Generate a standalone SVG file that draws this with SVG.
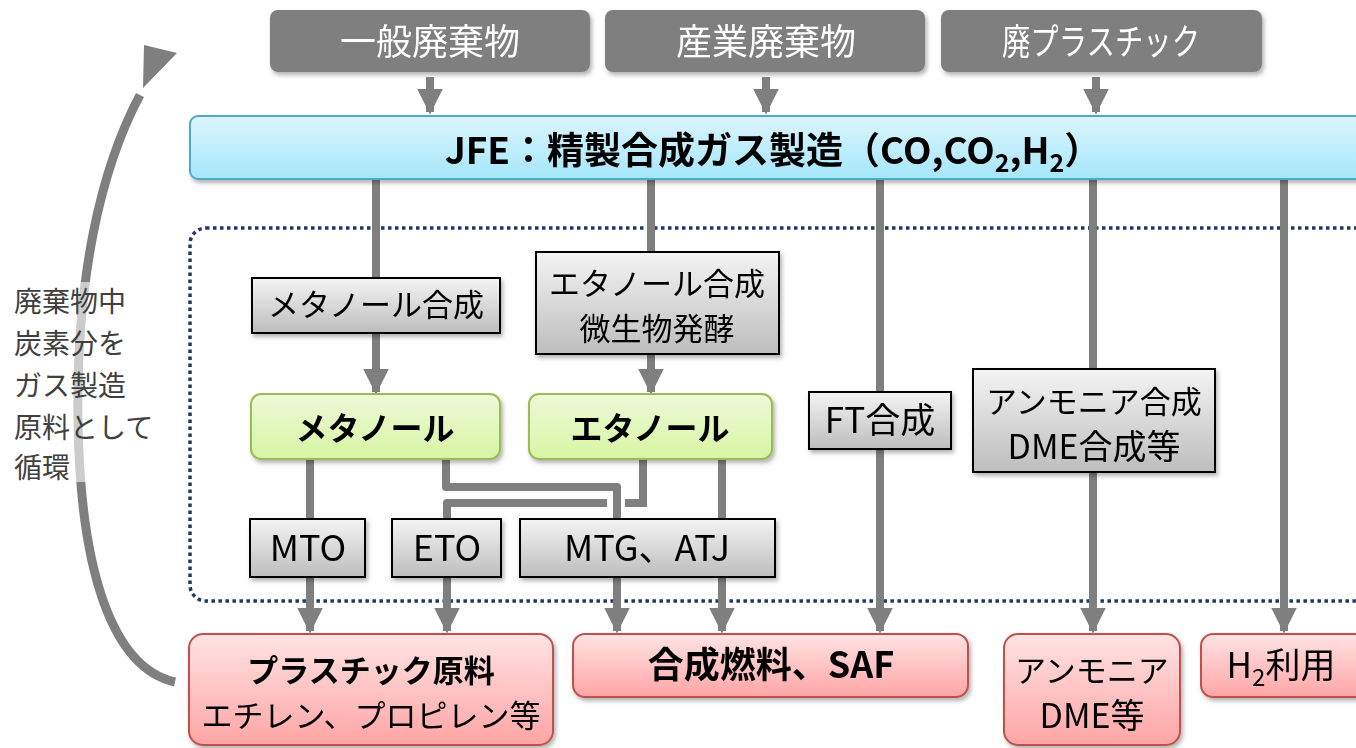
<svg xmlns="http://www.w3.org/2000/svg" width="1356" height="748" viewBox="0 0 1356 748">
<defs>
<linearGradient id="gBlue" x1="0" y1="0" x2="0" y2="1"><stop offset="0" stop-color="#dcf5fd"/><stop offset="1" stop-color="#a5e6fa"/></linearGradient>
<linearGradient id="gGray" x1="0" y1="0" x2="0" y2="1"><stop offset="0" stop-color="#f4f4f4"/><stop offset="1" stop-color="#bdbdbd"/></linearGradient>
<linearGradient id="gGreen" x1="0" y1="0" x2="0" y2="1"><stop offset="0" stop-color="#eef9d9"/><stop offset="1" stop-color="#d6f5a3"/></linearGradient>
<linearGradient id="gPink" x1="0" y1="0" x2="0" y2="1"><stop offset="0" stop-color="#ffe3e3"/><stop offset="1" stop-color="#ffa5a5"/></linearGradient>
<filter id="sh" x="-10%" y="-10%" width="130%" height="140%"><feDropShadow dx="2" dy="3" stdDeviation="2" flood-color="#000" flood-opacity="0.3"/></filter>
<marker id="ah" viewBox="0 0 10 10" refX="9" refY="5" markerWidth="3.2" markerHeight="3.2" markerUnits="strokeWidth" orient="auto"><path d="M0,0 L10,5 L0,10 z" fill="#7f7f7f"/></marker>
</defs>
<style>
text{font-family:"Noto Sans CJK JP","Noto Sans",sans-serif;text-anchor:middle;fill:#000}
.src rect{fill:#7f7f7f}
.src text{fill:#fff;font-size:36px}
.proc rect{fill:url(#gGray);stroke:#000;stroke-width:2}
.proc text{font-size:31px}
.proc text.lat{font-size:36px}
.prod rect{fill:url(#gGreen);stroke:#9bbb59;stroke-width:2}
.prod text{font-size:32px;font-weight:bold}
.out rect{fill:url(#gPink);stroke:#c0504d;stroke-width:2}
.out text{font-size:31px}
.b{font-weight:bold}
.note{font-size:28px;text-anchor:start;fill:#404040}
.ln{fill:none;stroke:#7f7f7f;stroke-width:8}
.ar{fill:none;stroke:#7f7f7f;stroke-width:8;marker-end:url(#ah)}
</style>

<!-- cycle arrow and note -->
<g id="cycle">
<path d="M175,682 C112,668 80,570 78,420 C76,280 100,170 140,95" fill="none" stroke="#7f7f7f" stroke-width="9"/>
<polygon points="144,45 177,53 143,88" fill="#7f7f7f"/>
<rect x="10" y="282" width="150" height="200" fill="#fff" opacity="0.6"/>
<text class="note" x="14" y="312">廃棄物中</text>
<text class="note" x="14" y="354">炭素分を</text>
<text class="note" x="14" y="396">ガス製造</text>
<text class="note" x="14" y="438">原料として</text>
<text class="note" x="14" y="478">循環</text>
</g>

<!-- dotted region -->
<rect id="region" x="190" y="228" width="1185" height="373" rx="16" fill="none" stroke="#1f3864" stroke-width="3.5" stroke-dasharray="3.5 3.5"/>

<!-- sources -->
<g id="src1" class="src" filter="url(#sh)"><rect x="270" y="10" width="320" height="62" rx="8"/><text x="430" y="55">一般廃棄物</text></g>
<g id="src2" class="src" filter="url(#sh)"><rect x="605" y="10" width="320" height="62" rx="8"/><text x="766" y="55">産業廃棄物</text></g>
<g id="src3" class="src" filter="url(#sh)"><rect x="941" y="10" width="321" height="62" rx="8"/><text x="1101" y="55" textLength="198" lengthAdjust="spacingAndGlyphs">廃プラスチック</text></g>

<!-- connectors -->
<g id="connectors">
<path class="ar" d="M430,77 V112"/>
<path class="ar" d="M766,77 V112"/>
<path class="ar" d="M1096,77 V112"/>
<path class="ln" d="M376,180 V280"/>
<path class="ar" d="M376,330 V392"/>
<path class="ln" d="M651,180 V255"/>
<path class="ar" d="M651,350 V392"/>
<path class="ar" d="M880,180 V631"/>
<path class="ar" d="M1093,180 V631"/>
<path class="ar" d="M1284,172 V631"/>
<path class="ar" d="M310,459 V631"/>
<path class="ar" d="M446,459 V487 H617 V631" stroke-linejoin="round"/>
<path class="ln" d="M643,459 V503 H625"/>
<path class="ar" d="M607,503 H447 V631" stroke-linejoin="round"/>
<path class="ar" d="M722,459 V631"/>
</g>

<!-- main gas box -->
<g id="jfe" filter="url(#sh)">
<rect x="190" y="116" width="1185" height="63" rx="8" fill="url(#gBlue)" stroke="#4bacc6" stroke-width="2"/>
<text x="773" y="164" class="b" style="font-size:37px">JFE：精製合成ガス製造（CO,CO<tspan font-size="25" dy="8">2</tspan><tspan dy="-8">,H</tspan><tspan font-size="25" dy="8">2</tspan><tspan dy="-8">）</tspan></text>
</g>

<!-- processes -->
<g id="p_meoh" class="proc" filter="url(#sh)"><rect x="252" y="278" width="248" height="55"/><text x="376" y="316">メタノール合成</text></g>
<g id="p_etoh" class="proc" filter="url(#sh)"><rect x="536" y="252" width="243" height="102"/><text x="657" y="295">エタノール合成</text><text x="657" y="340">微生物発酵</text></g>
<g id="p_ft" class="proc" filter="url(#sh)"><rect x="809" y="392" width="142" height="57"/><text x="880" y="433" style="font-size:35px">FT合成</text></g>
<g id="p_nh3" class="proc" filter="url(#sh)"><rect x="973" y="369" width="242" height="103"/><text x="1094" y="413">アンモニア合成</text><text x="1094" y="459" style="font-size:34px">DME合成等</text></g>
<g id="p_mto" class="proc" filter="url(#sh)"><rect x="250" y="519" width="115" height="58"/><text class="lat" x="308" y="561">MTO</text></g>
<g id="p_eto" class="proc" filter="url(#sh)"><rect x="392" y="519" width="109" height="58"/><text class="lat" x="447" y="561">ETO</text></g>
<g id="p_mtg" class="proc" filter="url(#sh)"><rect x="520" y="519" width="255" height="58"/><text class="lat" x="647" y="561">MTG、ATJ</text></g>

<!-- intermediates -->
<g id="methanol" class="prod" filter="url(#sh)"><rect x="251" y="394" width="249" height="65" rx="10"/><text x="375" y="440">メタノール</text></g>
<g id="ethanol" class="prod" filter="url(#sh)"><rect x="529" y="394" width="243" height="65" rx="10"/><text x="650" y="440">エタノール</text></g>

<!-- outputs -->
<g id="o_plastic" class="out" filter="url(#sh)"><rect x="189" y="634" width="364" height="111" rx="14"/><text x="371" y="682" class="b">プラスチック原料</text><text x="371" y="727">エチレン、プロピレン等</text></g>
<g id="o_fuel" class="out" filter="url(#sh)"><rect x="573" y="634" width="395" height="63" rx="12"/><text x="771" y="678" class="b" style="font-size:36px">合成燃料、SAF</text></g>
<g id="o_nh3" class="out" filter="url(#sh)"><rect x="1004" y="634" width="176" height="111" rx="14"/><text x="1092" y="682">アンモニア</text><text x="1092" y="728" style="font-size:34px">DME等</text></g>
<g id="o_h2" class="out" filter="url(#sh)"><rect x="1201" y="634" width="175" height="63" rx="12"/><text x="1281" y="678" style="font-size:35px">H<tspan font-size="24" dy="8">2</tspan><tspan dy="-8">利用</tspan></text></g>
</svg>
